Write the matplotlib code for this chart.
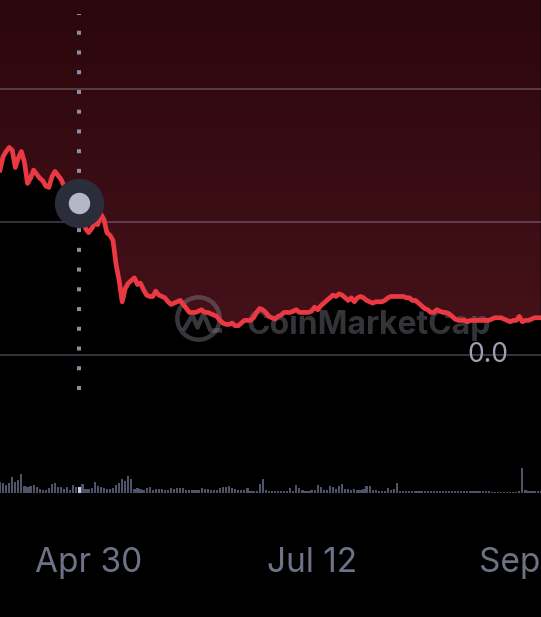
import numpy as np
import pandas as pd
import matplotlib.dates as mdates
from matplotlib import pyplot as plt
from matplotlib.colors import LinearSegmentedColormap
from matplotlib.path import Path
plt.switch_backend('agg')

# daily price (gridlines sit at 0.0 / 0.1 / 0.2)
price = [0.139, 0.149, 0.153, 0.156, 0.154, 0.141, 0.148, 0.153, 0.145, 0.129,
         0.133, 0.139, 0.136, 0.133, 0.131, 0.127, 0.126, 0.134, 0.138, 0.135,
         0.132, 0.127, 0.124, 0.121, 0.119, 0.117, 0.114, 0.108, 0.095, 0.092,
         0.095, 0.099, 0.098, 0.106, 0.102, 0.092, 0.090, 0.086, 0.068, 0.056,
         0.040, 0.050, 0.054, 0.056, 0.058, 0.053, 0.054, 0.049, 0.045, 0.044,
         0.044, 0.048, 0.045, 0.044, 0.043, 0.040, 0.038, 0.039, 0.040, 0.041,
         0.038, 0.035, 0.032, 0.032, 0.032, 0.033, 0.034, 0.032, 0.032, 0.031,
         0.030, 0.029, 0.026, 0.024, 0.023, 0.023, 0.024, 0.022, 0.022, 0.024,
         0.026, 0.026, 0.026, 0.028, 0.032, 0.035, 0.034, 0.032, 0.029, 0.028,
         0.027, 0.029, 0.030, 0.032, 0.032, 0.032, 0.033, 0.034, 0.032, 0.032,
         0.032, 0.032, 0.033, 0.036, 0.034, 0.037, 0.039, 0.041, 0.043, 0.045,
         0.044, 0.046, 0.045, 0.043, 0.041, 0.043, 0.040, 0.043, 0.044, 0.043,
         0.041, 0.040, 0.039, 0.040, 0.040, 0.040, 0.041, 0.043, 0.044, 0.044,
         0.044, 0.044, 0.044, 0.043, 0.043, 0.041, 0.041, 0.039, 0.037, 0.035,
         0.034, 0.032, 0.032, 0.034, 0.033, 0.032, 0.032, 0.031, 0.029, 0.027,
         0.026, 0.026, 0.026, 0.025, 0.026, 0.026, 0.026, 0.026, 0.026, 0.026,
         0.026, 0.027, 0.028, 0.028, 0.028, 0.027, 0.026, 0.025, 0.026, 0.026,
         0.029, 0.025, 0.026, 0.026, 0.027, 0.028, 0.028, 0.028]

# daily volume (x100k)
volume = [11, 10, 7.7, 10, 16, 10.7, 13, 19, 6.7, 6,
          7.3, 7.7, 5.7, 4, 3.3, 3.3, 5, 9, 10, 5.7,
          5.7, 4, 6, 2.7, 8.3, 5.7, 5.7, 9, 4.3, 4,
          5, 10.7, 6.7, 5.7, 5, 4.3, 4, 5, 7.7, 10,
          14, 11.7, 16.7, 14.3, 4, 5, 4, 3.3, 5, 5.7,
          2.7, 4, 4.3, 4.3, 2.7, 3.3, 5, 4.3, 5, 5,
          5, 3.3, 2.7, 2.7, 2.7, 3.3, 5, 4, 4, 3.3,
          3.3, 3.3, 5, 5.7, 6, 7.3, 5, 4, 3.3, 2.7,
          3.3, 5, 2.3, 2.3, 2.3, 9, 14, 2.7, 2.3, 2.3,
          2, 2, 2, 2, 2.3, 5, 2.3, 8.3, 5, 2.7,
          2.3, 2.3, 2.7, 3.3, 8.3, 5.7, 3.3, 3.3, 7.3, 5.7,
          4, 6.7, 9, 4, 4.3, 2.7, 4, 2.7, 3.3, 4,
          6.7, 6.7, 3.3, 2.7, 2.3, 2.3, 2.3, 5, 3.3, 4,
          10, 2.3, 2, 2, 2, 2, 2.3, 2.3, 2, 1.7,
          2, 2, 1.7, 1.7, 2, 2, 1.7, 2, 2, 1.7,
          1.7, 1.7, 1.7, 1.7, 1.7, 1.7, 1.7, 1.7, 1.7, 1.7,
          1.7, 1.5, 1.5, 1.5, 1.5, 1.5, 1.5, 1.5, 1.5, 1.5,
          1.7, 25, 3.3, 1.7, 2.3, 1.7, 2, 1.7]

start = '2021-04-01'
cursor_day = 26
tick_dates = ['2021-04-30', '2021-07-12', '2021-09-23']
tick_labels = ['Apr 30', 'Jul 12', 'Sep 23']
grid_vals = [0.0, 0.1, 0.2]

dates = pd.date_range(start, periods=len(price), freq='D')
xn = mdates.date2num(dates)
x0, x1 = xn[0], xn[0] + 177.1
ylo, yhi = -0.197, 0.2669

W, H = 541, 617
fig = plt.figure(figsize=(W / 100, H / 100), dpi=100, facecolor='black')
ax = fig.add_axes([0, 0, 1, 1])
ax.set_facecolor('black')
ax.axis('off')

# red gradient above the line
cmap = LinearSegmentedColormap.from_list('bg', ['#47121a', '#2b070c'])
grad = np.linspace(0, 1, 256).reshape(-1, 1)
im = ax.imshow(grad, extent=[x0 - 2, x1 + 2, -0.005, yhi], origin='lower',
               aspect='auto', cmap=cmap, zorder=1)
poly = ax.fill_between(xn, price, yhi + 0.01, color='none', lw=0)
im.set_clip_path(poly.get_paths()[0], transform=ax.transData)

for g in grid_vals:
    ax.axhline(g, color='#b0b0d0', alpha=0.3, lw=1.4, zorder=2)

# watermark
wm = '#8a8a95'
ax.plot([0.366], [0.485], transform=ax.transAxes, marker='o', ms=30.5,
        mfc='none', mec=wm, mew=3.2, alpha=0.4, zorder=2)
m_path = Path([(-0.64, -0.51), (-0.26, 0.13), (-0.04, -0.38), (0.21, 0.21),
               (0.51, -0.51), (1.0, -0.51)])
ax.plot([0.366], [0.485], transform=ax.transAxes, marker=m_path, ms=33.8,
        mfc='none', mec=wm, mew=3.2, alpha=0.4, zorder=2)
ax.text(0.456, 0.473, 'CoinMarketCap', transform=ax.transAxes, family='Inter',
        fontweight='bold', fontsize=23, color=wm, alpha=0.38, va='center',
        zorder=2)

ax.plot(xn, price, color='#ea3943', lw=3.4, solid_joinstyle='round', zorder=3)

# cursor
ax.axvline(xn[cursor_day], ymin=0.368, ymax=0.978, color='#8c8ca4', lw=2.9,
           linestyle=(0, (1, 3.9)), dash_capstyle='butt', zorder=4)
ax.plot(xn[cursor_day], price[cursor_day], 'o', ms=34.5, color='#2b2d3a',
        zorder=5)
ax.plot(xn[cursor_day], price[cursor_day], 'o', ms=14.4, color='#b3b7c8',
        zorder=6)

ax.text(0.939, -0.0053, '0.0', transform=ax.get_yaxis_transform(),
        ha='right', va='baseline', family='Inter', fontsize=19,
        color='#9da1b2', zorder=4)

ax.set_xlim(x0, x1)
ax.set_ylim(ylo, yhi)

# volume
axv = fig.add_axes([0, 1 - 493 / H, 1, 53 / H])
axv.patch.set_alpha(0)
bar_colors = ['#4f5369'] * len(volume)
bar_colors[cursor_day] = '#c8ccdb'
axv.bar(xn, volume, width=0.72, color=bar_colors, lw=0)
axv.set_xlim(x0, x1)
axv.set_ylim(0, 53)
for s in axv.spines.values():
    s.set_visible(False)
axv.set_yticks([])
axv.set_xticks(mdates.date2num(pd.to_datetime(tick_dates)))
axv.set_xticklabels(tick_labels, family='Inter', fontsize=24, color='#6e7286')
axv.tick_params(axis='x', length=0, pad=39)

fig.savefig('out.png', dpi=100, facecolor='black')
